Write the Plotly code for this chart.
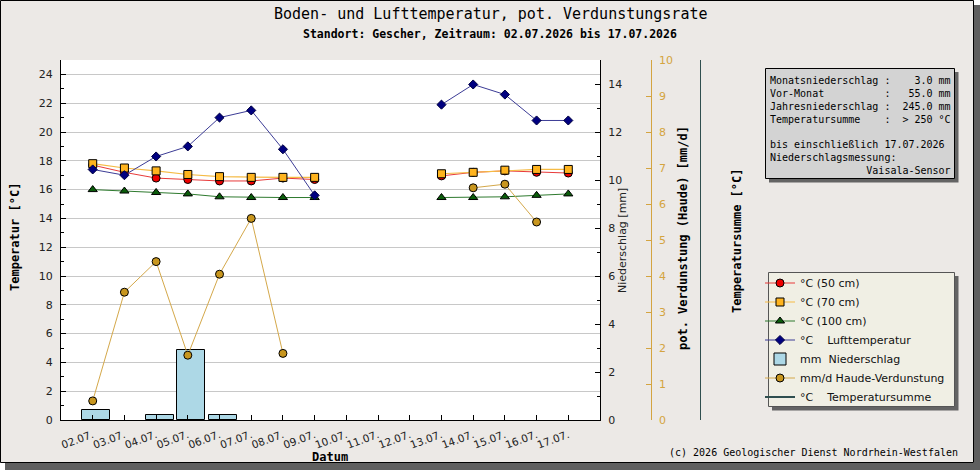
import plotly.graph_objects as go

# ---------------- data ----------------
dates = ["02.07.", "03.07.", "04.07.", "05.07.", "06.07.", "07.07.", "08.07.", "09.07.",
         "10.07.", "11.07.", "12.07.", "13.07.", "14.07.", "15.07.", "16.07.", "17.07."]
soil_50 = [17.7, 17.2, 16.8, 16.7, 16.6, 16.6, 16.8, 16.7, None, None, None, 16.95, 17.2, 17.3, 17.2, 17.15]
soil_70 = [17.8, 17.5, 17.3, 17.05, 16.9, 16.85, 16.85, 16.85, None, None, None, 17.1, 17.2, 17.35, 17.4, 17.4]
soil_100 = [16.0, 15.9, 15.8, 15.7, 15.5, 15.45, 15.45, 15.45, None, None, None, 15.45, 15.45, 15.5, 15.6, 15.7]
air_temp = [17.4, 17.0, 18.3, 19.0, 21.0, 21.5, 18.8, 15.6, None, None, None, 21.9, 23.3, 22.6, 20.8, 20.8]
precip = [0.4, None, 0.2, 2.9, 0.2, None, None, None, None, None, None, None, None, None, None, None]
haude = [0.53, 3.55, 4.4, 1.8, 4.05, 5.6, 1.85, None, None, None, None, None, 6.45, 6.55, 5.5, None]
temp_sum = [None] * len(dates)

legend_names = ["°C (50 cm)", "°C (70 cm)", "°C (100 cm)",
                "°C\u00a0\u00a0\u00a0\u00a0Lufttemperatur",
                "mm\u00a0\u00a0Niederschlag",
                "mm/d Haude-Verdunstung",
                "°C\u00a0\u00a0\u00a0\u00a0Temperatursumme"]

info_lines_1 = ["Monatsniederschlag :    3.0 mm",
                "Vor-Monat          :   55.0 mm",
                "Jahresniederschlag :  245.0 mm",
                "Temperatursumme    :  > 250 °C"]
info_lines_2 = ["bis einschließlich 17.07.2026",
                "Niederschlagsmessung:",
                "                Vaisala-Sensor"]

x_idx = list(range(len(dates)))

# ---------------- geometry helpers (layout only) ----------------
ML, MT, MB, MR = 61, 60, 50, 19
W, H = 980, 470
AW = W - ML - MR
AH = H - MT - MB


def px(x):
    return (x - ML) / AW


def py(y):
    return (H - MB - y) / AH


SANS = "DejaVu Sans"
MONO = "DejaVu Sans Mono"
HAUDE_AX = "#d4a440"

fig = go.Figure()

fig.add_trace(go.Scatter(x=x_idx, y=soil_50, name=legend_names[0], mode="lines+markers",
                         line=dict(color="#e83a3a", width=1),
                         marker=dict(symbol="circle", size=8, color="#ee0000", line=dict(color="black", width=1)),
                         legendrank=1))
fig.add_trace(go.Scatter(x=x_idx, y=soil_70, name=legend_names[1], mode="lines+markers",
                         line=dict(color="#f5bb45", width=1.2),
                         marker=dict(symbol="square", size=8, color="#ffb41e", line=dict(color="black", width=1)),
                         legendrank=2))
fig.add_trace(go.Scatter(x=x_idx, y=soil_100, name=legend_names[2], mode="lines+markers",
                         line=dict(color="#2e7a2e", width=1),
                         marker=dict(symbol="triangle-up", size=8, color="#0a5c0a", line=dict(color="black", width=1)),
                         legendrank=3))
fig.add_trace(go.Scatter(x=x_idx, y=air_temp, name=legend_names[3], mode="lines+markers",
                         line=dict(color="#3c3c96", width=1),
                         marker=dict(symbol="diamond", size=7, color="#000080", line=dict(color="#000040", width=1)),
                         legendrank=4))
fig.add_trace(go.Bar(x=x_idx, y=precip, name=legend_names[4], yaxis="y2",
                     width=0.88, offset=-0.33,
                     marker=dict(color="#add8e6", line=dict(color="black", width=1)),
                     legendrank=5))
fig.add_trace(go.Scatter(x=x_idx, y=haude, name=legend_names[5], yaxis="y3", mode="lines+markers",
                         line=dict(color="#d4a84a", width=1),
                         marker=dict(symbol="circle", size=8, color="#c8961e", line=dict(color="black", width=1)),
                         legendrank=6))
fig.add_trace(go.Scatter(x=x_idx, y=temp_sum, name=legend_names[6], yaxis="y4", mode="lines",
                         line=dict(color="#2f4f4f", width=2), showlegend=True,
                         legendrank=7))

tickfont = dict(family=SANS, size=11, color="#222222")

fig.update_layout(
    width=W, height=H,
    margin=dict(l=ML, r=MR, t=MT, b=MB, pad=0),
    paper_bgcolor="#ece9e6",
    plot_bgcolor="white",
    bargap=0,
    showlegend=True,
    legend=dict(x=px(760), y=py(268.5), xanchor="left", yanchor="top",
                bgcolor="rgba(0,0,0,0)", borderwidth=0,
                font=dict(family=SANS, size=11, color="#111111"),
                traceorder="normal"),
    xaxis=dict(domain=[0, px(600)], range=[-1, 16], tickmode="array",
               tickvals=x_idx, ticktext=dates, tickangle=-20,
               ticks="inside", ticklen=5, tickcolor="black",
               showline=True, linecolor="black", linewidth=1,
               showgrid=False, zeroline=False,
               tickfont=dict(family=SANS, size=10.5, color="#222222"), ticklabelstandoff=4),
    yaxis=dict(range=[0, 25], dtick=2, tick0=0, ticks="inside", ticklen=5, tickcolor="black",
               minor=dict(ticks="inside", ticklen=3, dtick=1, tickcolor="black", showgrid=False),
               showline=True, linecolor="black", linewidth=1,
               showgrid=True, gridcolor="#c8c8c8", gridwidth=1, zeroline=False,
               tickfont=tickfont, ticklabelstandoff=5),
    yaxis2=dict(overlaying="y", side="right", anchor="x", range=[0, 15], dtick=2, tick0=0,
                ticks="inside", ticklen=5, tickcolor="black",
                minor=dict(ticks="inside", ticklen=3, dtick=1, tickcolor="black", showgrid=False),
                showline=True, linecolor="black", linewidth=1,
                showgrid=False, zeroline=False, tickfont=tickfont, ticklabelstandoff=5),
    yaxis3=dict(overlaying="y", side="right", anchor="free", position=px(650.7),
                range=[0, 10], dtick=1, tick0=0, ticks="inside", ticklen=5, tickcolor=HAUDE_AX,
                showline=True, linecolor=HAUDE_AX, linewidth=1,
                showgrid=False, zeroline=False,
                tickfont=dict(family=SANS, size=11, color=HAUDE_AX), ticklabelstandoff=5),
    yaxis4=dict(overlaying="y", side="right", anchor="free", position=px(700),
                range=[0, 1], tickmode="array", tickvals=[0], ticks="inside", ticklen=5,
                tickcolor="#2f4f4f", showticklabels=False,
                showline=True, linecolor="#2f4f4f", linewidth=1,
                showgrid=False, zeroline=False),
)

# ---------------- frame, boxes ----------------
shapes = []
shapes.append(dict(type="rect", xref="paper", yref="paper", x0=px(974), x1=px(981), y0=py(5), y1=py(471),
                   fillcolor="#5f5f5f", line=dict(width=0), layer="above"))
shapes.append(dict(type="rect", xref="paper", yref="paper", x0=px(5), x1=px(981), y0=py(463), y1=py(471),
                   fillcolor="#5f5f5f", line=dict(width=0), layer="above"))
shapes.append(dict(type="rect", xref="paper", yref="paper", x0=px(974), x1=px(981), y0=py(-1), y1=py(5),
                   fillcolor="white", line=dict(width=0), layer="above"))
shapes.append(dict(type="rect", xref="paper", yref="paper", x0=px(-1), x1=px(5), y0=py(463), y1=py(471),
                   fillcolor="white", line=dict(width=0), layer="above"))
shapes.append(dict(type="rect", xref="paper", yref="paper", x0=px(0.5), x1=px(973.5), y0=py(0.5), y1=py(462.5),
                   fillcolor="rgba(0,0,0,0)", line=dict(color="black", width=1), layer="above"))
# info box
shapes.append(dict(type="rect", xref="paper", yref="paper", x0=px(769), x1=px(958.5), y0=py(72), y1=py(182.5),
                   fillcolor="#646464", line=dict(width=0), layer="above"))
shapes.append(dict(type="rect", xref="paper", yref="paper", x0=px(765.5), x1=px(954.5), y0=py(68.5), y1=py(178.5),
                   fillcolor="#d3d3d3", line=dict(color="black", width=1), layer="above"))
# legend box
shapes.append(dict(type="rect", xref="paper", yref="paper", x0=px(772), x1=px(958.5), y0=py(276), y1=py(410.5),
                   fillcolor="#646464", line=dict(width=0), layer="above"))
shapes.append(dict(type="rect", xref="paper", yref="paper", x0=px(768.5), x1=px(954.5), y0=py(272.5), y1=py(406.5),
                   fillcolor="#f0efe4", line=dict(color="#555555", width=1), layer="above"))
fig.update_layout(shapes=shapes)

NB = "\u00a0"
annotations = [
    dict(text="Boden- und Lufttemperatur, pot. Verdunstungsrate", x=px(490), y=py(14),
         font=dict(family=MONO, size=15, color="black")),
    dict(text="<b>Standort: Gescher, Zeitraum: 02.07.2026 bis 17.07.2026</b>", x=px(490), y=py(34),
         font=dict(family=MONO, size=11.5, color="black")),
    dict(text="<b>Temperatur [°C]</b>", x=px(15), y=py(237), textangle=-90,
         font=dict(family=MONO, size=12, color="black")),
    dict(text="Niederschlag [mm]", x=px(622), y=py(241), textangle=-90,
         font=dict(family=SANS, size=11, color="#222222")),
    dict(text="<b>pot. Verdunstung (Haude) [mm/d]</b>", x=px(683), y=py(238), textangle=-90,
         font=dict(family=MONO, size=12, color="black")),
    dict(text="<b>Temperatursumme [°C]</b>", x=px(737), y=py(241), textangle=-90,
         font=dict(family=MONO, size=12, color="black")),
    dict(text="<b>Datum</b>", x=px(330), y=py(457),
         font=dict(family=MONO, size=12, color="black")),
    dict(text="(c) 2026 Geologischer Dienst Nordrhein-Westfalen", x=px(960), y=py(453), xanchor="right",
         font=dict(family=MONO, size=10, color="black")),
    dict(text="<br>".join(l.replace(" ", NB) for l in info_lines_1), x=px(768), y=py(100),
         xanchor="left", align="left", font=dict(family=MONO, size=10, color="black")),
    dict(text="<br>".join(l.replace(" ", NB) for l in info_lines_2), x=px(768), y=py(157),
         xanchor="left", align="left", font=dict(family=MONO, size=10, color="black")),
]
for a in annotations:
    a.setdefault("xref", "paper")
    a.setdefault("yref", "paper")
    a.setdefault("showarrow", False)
    a.setdefault("xanchor", "center")
    a.setdefault("yanchor", "middle")
fig.update_layout(annotations=annotations)

fig.write_html("out.html")
